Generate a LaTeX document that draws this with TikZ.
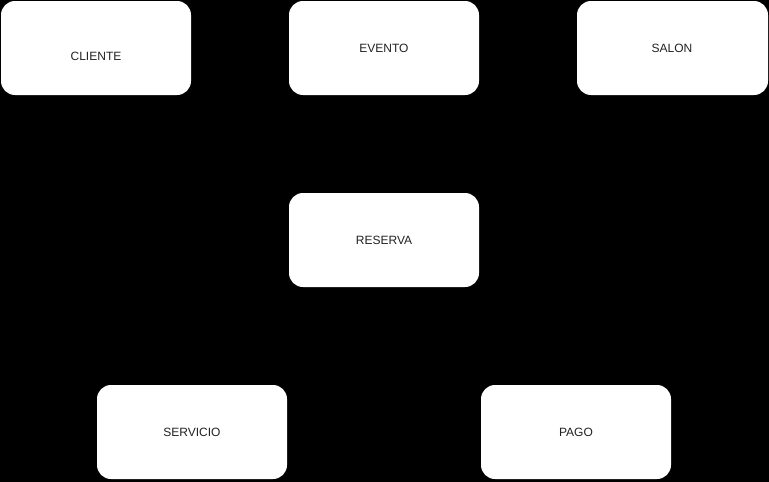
\documentclass[tikz,border=0pt]{standalone}
\usepackage{fontspec}
\setmainfont{Liberation Sans}
\definecolor{txt}{HTML}{222222}
\begin{document}
\begin{tikzpicture}[x=1pt,y=-1pt,
  box/.style={fill=white,draw=none,rounded corners=14pt,minimum width=190pt,minimum height=94pt,inner sep=0pt},
  lbl/.style={font=\fontsize{12pt}{14pt}\selectfont,text=txt,inner sep=0pt}]
\fill[black] (0,0) rectangle (769,482);
\useasboundingbox (0,0) rectangle (769,482);
\node[box] (bcliente) at (96,48) {};
\node[box] (bevento) at (384,48) {};
\node[box,minimum width=191pt] (bsalon) at (672.5,48) {};
\node[box] (breserva) at (384,240) {};
\node[box] (bservicio) at (192,432) {};
\node[box] (bpago) at (576,432) {};
\node[lbl] (cliente) at (96,56) {CLIENTE};
\node[lbl] (evento) at (384,48) {EVENTO};
\node[lbl] (salon) at (672,48) {SALON};
\node[lbl] (reserva) at (384,240) {RESERVA};
\node[lbl] (servicio) at (192,432) {SERVICIO};
\node[lbl] (pago) at (576,432) {PAGO};
\end{tikzpicture}
\end{document}
